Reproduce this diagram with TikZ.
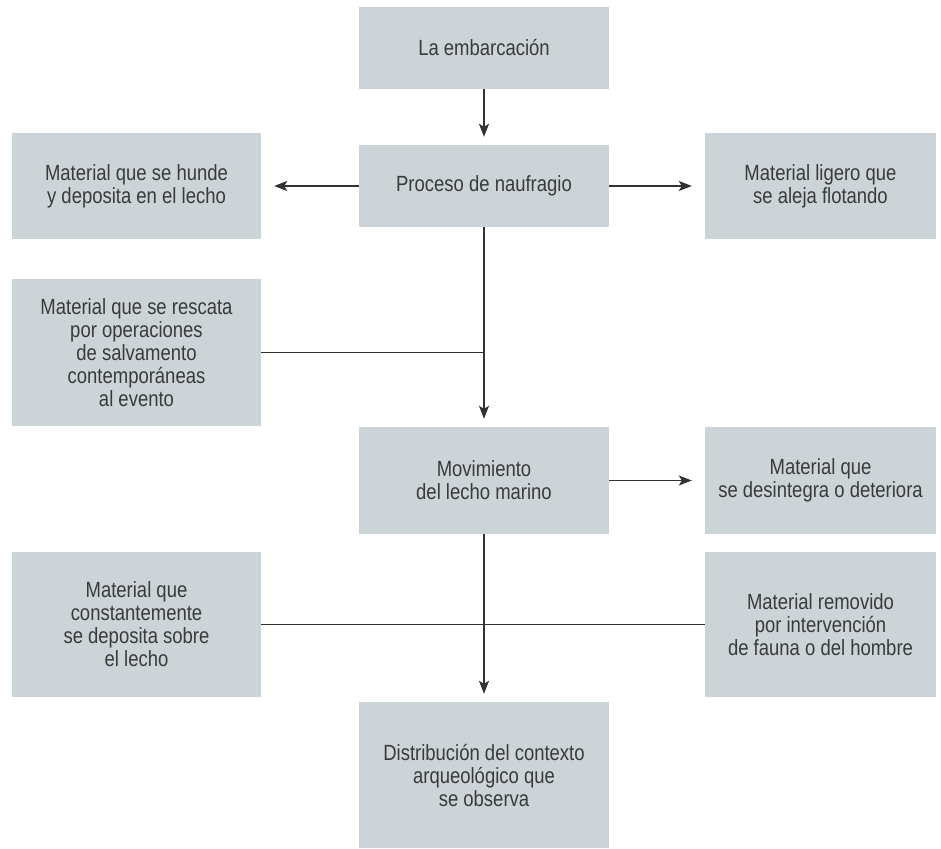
\documentclass[tikz,border=0pt]{standalone}
\usepackage{fontspec}
\setmainfont[FakeStretch=0.84]{Liberation Sans}
\usetikzlibrary{arrows.meta, positioning}
\definecolor{cajagris}{RGB}{204,212,216}
\definecolor{textogris}{RGB}{58,58,58}
\definecolor{lineagris}{RGB}{50,50,50}

\begin{document}
\begin{tikzpicture}[x=1pt, y=-1pt,
    b/.style={fill=cajagris, text=textogris, align=center, inner sep=0pt,
      minimum width=250pt, minimum height=82pt, font=\fontsize{22}{23}\selectfont},
    lado/.style={b, minimum width=249pt},
    der/.style={b, minimum width=231pt},
    lin/.style={line width=1.3pt, draw=lineagris},
    arr/.style={lin, -{Stealth[length=13pt, width=10pt, inset=3pt]}, shorten >=8pt},
    arrh/.style={arr, shorten >=13pt}]
  \useasboundingbox (0,0) rectangle (941,848);
  % columna central
  \node[b] (emb) at (484,48) {La embarcación};
  \node[b] (proc) at (484,186) {Proceso de naufragio};
  \node[b, minimum height=107pt] (mov) at (484,480.5) {Movimiento\\del lecho marino};
  \node[b, minimum height=146pt] (dist) at (484,775) {Distribución del contexto\\arqueológico que\\se observa};
  % lados
  \node[lado, minimum height=106pt] (hunde) at (136.5,186) {Material que se hunde\\y deposita en el lecho};
  \node[der, minimum height=106pt] (ligero) at (820.5,186) {Material ligero que\\se aleja flotando};
  \node[lado, minimum height=147pt] (rescata) at (136.5,352.5) {Material que se rescata\\por operaciones\\de salvamento\\contemporáneas\\al evento};
  \node[der, minimum height=107pt] (desint) at (820.5,480.5) {Material que\\se desintegra o deteriora};
  \node[lado, minimum height=145pt] (cons) at (136.5,624.5) {Material que\\constantemente\\se deposita sobre\\el lecho};
  \node[der, minimum height=145pt] (remov) at (820.5,624.5) {Material removido\\por intervención\\de fauna o del hombre};
  % conectores
  \draw[arr] (emb) -- (proc);
  \draw[arrh] (proc) -- (hunde);
  \draw[arrh] (proc) -- (ligero);
  \draw[arr] (proc) -- (mov);
  \draw[lin] (rescata.east) -- (rescata.east -| proc.south);
  \draw[arrh] (mov) -- (desint);
  \draw[arr] (mov) -- (dist);
  \draw[lin] (cons.east) -- (remov.west);
\end{tikzpicture}
\end{document}
